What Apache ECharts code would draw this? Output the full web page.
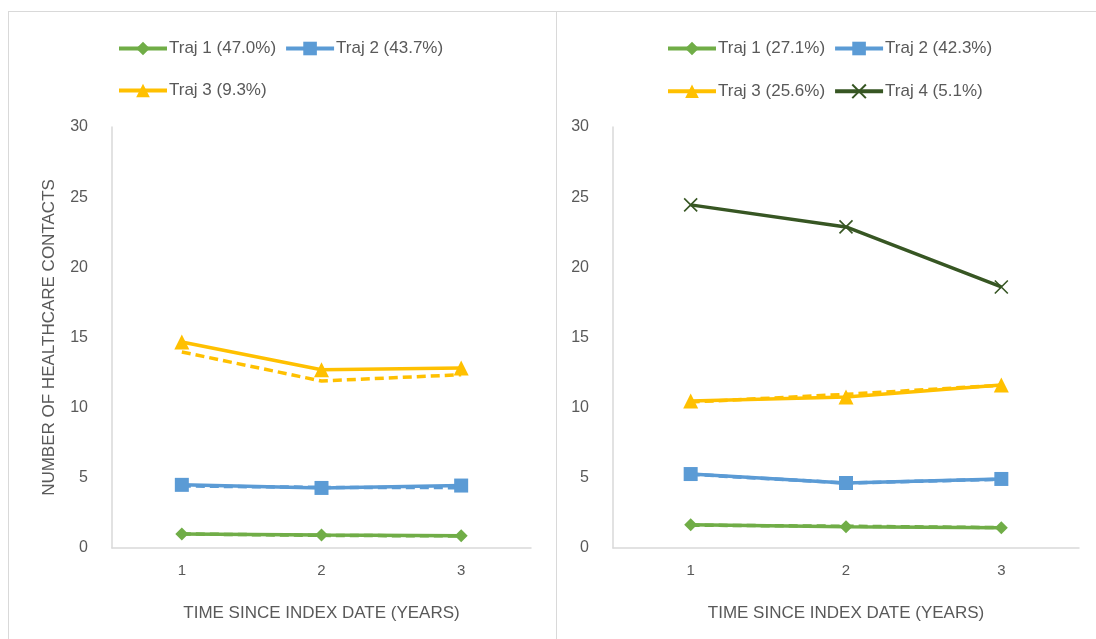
<!DOCTYPE html>
<html>
<head>
<meta charset="utf-8">
<script src="https://cdn.jsdelivr.net/npm/echarts@6/dist/echarts.min.js"></script>
<style>
html,body{margin:0;padding:0;background:#fff;}
#c{width:1096px;height:639px;}
</style>
</head>
<body>
<div id="c"></div>
<script>
var years = ['1', '2', '3'];
var yTicks = [0, 5, 10, 15, 20, 25, 30];

// Left panel (3 trajectories)
var L_names = ['Traj 1 (47.0%)', 'Traj 2 (43.7%)', 'Traj 3 (9.3%)'];
var L_traj1 = [1.0, 0.93, 0.88];
var L_traj2 = [4.5, 4.28, 4.45];
var L_traj3 = [14.68, 12.7, 12.83];
var L_traj1_dash = [1.0, 0.9, 0.86];
var L_traj2_dash = [4.42, 4.32, 4.3];
var L_traj3_dash = [13.97, 11.9, 12.35];

// Right panel (4 trajectories)
var R_names = ['Traj 1 (27.1%)', 'Traj 2 (42.3%)', 'Traj 3 (25.6%)', 'Traj 4 (5.1%)'];
var R_traj1 = [1.66, 1.52, 1.45];
var R_traj2 = [5.27, 4.63, 4.92];
var R_traj3 = [10.48, 10.76, 11.62];
var R_traj4 = [24.45, 22.88, 18.6];
var R_traj1_dash = [1.63, 1.55, 1.45];
var R_traj2_dash = [5.25, 4.63, 4.9];
var R_traj3_dash = [10.4, 10.95, 11.6];

var C1 = '#70AD47', C2 = '#5B9BD5', C3 = '#FFC000', C4 = '#375623';
var TXT = '#595959', AX = '#D9D9D9';
var FONT = 'Liberation Sans';
var crossPath = 'path://M0,0L10,10M10,0L0,10';

function solid(name, data, color, symbol, size, gi, extra) {
  var s = {
    name: name, type: 'line', data: data, xAxisIndex: gi, yAxisIndex: gi,
    symbol: symbol, symbolSize: size, showSymbol: true,
    lineStyle: {color: color, width: 3.5},
    itemStyle: {color: color},
    z: 3
  };
  if (extra) Object.assign(s, extra);
  return s;
}
function dashed(name, data, color, gi) {
  return {
    name: name, type: 'line', data: data, xAxisIndex: gi, yAxisIndex: gi,
    symbol: 'none', lineStyle: {color: color, width: 3.5, type: [9, 5]},
    itemStyle: {color: color}, z: 2
  };
}

function xAxis(gi) {
  return {
    type: 'category', gridIndex: gi, data: years, boundaryGap: true,
    axisLine: {lineStyle: {color: AX, width: 1.5}},
    axisTick: {show: false},
    axisLabel: {color: TXT, fontSize: 15, fontFamily: FONT, margin: 15},
    name: 'TIME SINCE INDEX DATE (YEARS)', nameLocation: 'middle', nameGap: 57,
    nameTextStyle: {color: TXT, fontSize: 17, fontFamily: FONT}
  };
}
function yAxis(gi, withName) {
  var a = {
    type: 'value', gridIndex: gi, min: 0, max: 30, interval: 5,
    axisLine: {show: true, lineStyle: {color: AX, width: 1.5}},
    axisTick: {show: false},
    splitLine: {show: false},
    axisLabel: {color: TXT, fontSize: 16, fontFamily: FONT, margin: 24}
  };
  if (withName) {
    a.name = 'NUMBER OF HEALTHCARE CONTACTS';
    a.nameLocation = 'middle';
    a.nameGap = 54;
    a.nameTextStyle = {color: TXT, fontSize: 17, fontFamily: FONT};
  }
  return a;
}
function legend(left, top, data) {
  return {
    left: left, top: top, data: data, itemWidth: 48, itemHeight: 17, itemGap: 8,
    selectedMode: false,
    lineStyle: {width: 4},
    textStyle: {color: TXT, fontSize: 17, fontFamily: FONT, padding: [0, 0, 0, -3]}
  };
}

var option = {
  animation: false,
  backgroundColor: '#fff',
  graphic: [
    {type: 'line', shape: {x1: 8, y1: 11.5, x2: 1096, y2: 11.5}, style: {stroke: AX, lineWidth: 1}},
    {type: 'line', shape: {x1: 8.5, y1: 11, x2: 8.5, y2: 639}, style: {stroke: AX, lineWidth: 1}},
    {type: 'line', shape: {x1: 556.5, y1: 11, x2: 556.5, y2: 639}, style: {stroke: AX, lineWidth: 1}}
  ],
  legend: [
    legend(112, 35, [L_names[0], L_names[1]]),
    legend(112, 77, [L_names[2]]),
    legend(661, 35, [R_names[0], R_names[1]]),
    legend(661, 77, [R_names[2], R_names[3]])
  ],
  grid: [
    {left: 112, right: 565, top: 127, bottom: 91},
    {left: 613, right: 17, top: 127, bottom: 91}
  ],
  xAxis: [xAxis(0), xAxis(1)],
  yAxis: [yAxis(0, true), yAxis(1, false)],
  series: [
    dashed('L1d', L_traj1_dash, C1, 0),
    dashed('L2d', L_traj2_dash, C2, 0),
    dashed('L3d', L_traj3_dash, C3, 0),
    solid(L_names[0], L_traj1, C1, 'diamond', 13, 0),
    solid(L_names[1], L_traj2, C2, 'rect', 14, 0),
    solid(L_names[2], L_traj3, C3, 'triangle', 15, 0),
    dashed('R1d', R_traj1_dash, C1, 1),
    dashed('R2d', R_traj2_dash, C2, 1),
    dashed('R3d', R_traj3_dash, C3, 1),
    solid(R_names[0], R_traj1, C1, 'diamond', 13, 1),
    solid(R_names[1], R_traj2, C2, 'rect', 14, 1),
    solid(R_names[2], R_traj3, C3, 'triangle', 15, 1),
    solid(R_names[3], R_traj4, C4, crossPath, 13, 1, {
      itemStyle: {color: 'none', borderColor: C4, borderWidth: 1.6}
    })
  ]
};

var chart = echarts.init(document.getElementById('c'), null, {renderer: 'canvas'});
chart.setOption(option);
</script>
</body>
</html>
